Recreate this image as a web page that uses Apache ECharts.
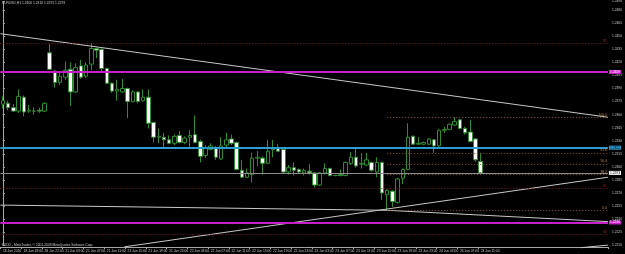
<!DOCTYPE html>
<html>
<head>
<meta charset="utf-8">
<script src="https://cdn.jsdelivr.net/npm/echarts@6/dist/echarts.min.js"></script>
<style>
  html, body { margin: 0; padding: 0; background: #000; }
  #chart { width: 625px; height: 254px; }
</style>
</head>
<body>
<div id="chart"></div>
<script>
// EURUSD H1, 18 Jun 14:00 .. 24 Jun 11:00 (2010)
const timeLabels = ['18 Jun 2010', '18 Jun 18:00', '18 Jun 22:00', '21 Jun 03:00', '21 Jun 07:00', '21 Jun 11:00',
  '21 Jun 15:00', '21 Jun 19:00', '21 Jun 23:00', '22 Jun 03:00', '22 Jun 07:00', '22 Jun 11:00',
  '22 Jun 15:00', '22 Jun 19:00', '22 Jun 23:00', '23 Jun 03:00', '23 Jun 07:00', '23 Jun 11:00',
  '23 Jun 15:00', '23 Jun 19:00', '23 Jun 23:00', '24 Jun 03:00', '24 Jun 07:00', '24 Jun 11:00'];
const totalSlots = 117; // bars + empty space on the right

const opens = [
  1.2372, 1.2373, 1.2368, 1.2364, 1.2380, 1.2364, 1.2364, 1.2365, 1.2364,
  1.2431, 1.2410, 1.2397, 1.2403, 1.2412, 1.2386, 1.2416, 1.2404, 1.2418, 1.2436, 1.2435,
  1.2413, 1.2396, 1.2387, 1.2386, 1.2390, 1.2375, 1.2386, 1.2376, 1.2380, 1.2351,
  1.2334, 1.2334, 1.2331, 1.2327, 1.2336, 1.2328, 1.2334, 1.2337, 1.2329, 1.2313,
  1.2320, 1.2322, 1.2309, 1.2325, 1.2332, 1.2328, 1.2296, 1.2288, 1.2291, 1.2310,
  1.2310, 1.2304, 1.2322, 1.2322, 1.2320, 1.2294, 1.2299, 1.2297, 1.2293, 1.2295,
  1.2293, 1.2279, 1.2293, 1.2298, 1.2290, 1.2291, 1.2290, 1.2304, 1.2311, 1.2303,
  1.2302, 1.2305, 1.2294, 1.2305, 1.2268, 1.2272, 1.2259, 1.2287, 1.2297, 1.2335,
  1.2326, 1.2326, 1.2326, 1.2331, 1.2324, 1.2342, 1.2343, 1.2348, 1.2354, 1.2344,
  1.2340, 1.2332, 1.2306
];
const closes = [
  1.2376, 1.2368, 1.2364, 1.2381, 1.2363, 1.2365, 1.2364, 1.2364, 1.2373,
  1.2412, 1.2397, 1.2404, 1.2411, 1.2386, 1.2414, 1.2403, 1.2417, 1.2436, 1.2434, 1.2413,
  1.2396, 1.2387, 1.2389, 1.2390, 1.2375, 1.2386, 1.2375, 1.2380, 1.2350, 1.2334,
  1.2335, 1.2331, 1.2327, 1.2335, 1.2328, 1.2333, 1.2336, 1.2328, 1.2312, 1.2322,
  1.2324, 1.2311, 1.2324, 1.2331, 1.2327, 1.2297, 1.2288, 1.2293, 1.2310, 1.2311,
  1.2304, 1.2318, 1.2320, 1.2318, 1.2294, 1.2299, 1.2296, 1.2294, 1.2296, 1.2293,
  1.2279, 1.2293, 1.2298, 1.2290, 1.2290, 1.2290, 1.2305, 1.2311, 1.2301, 1.2304,
  1.2308, 1.2296, 1.2305, 1.2270, 1.2273, 1.2260, 1.2286, 1.2297, 1.2334, 1.2326,
  1.2327, 1.2328, 1.2332, 1.2324, 1.2342, 1.2343, 1.2349, 1.2352, 1.2344, 1.2339,
  1.2329, 1.2308, 1.2293
];
const lows = [
  1.2367, 1.2365, 1.2363, 1.2362, 1.2358, 1.2362, 1.2360, 1.2362, 1.2363,
  1.2411, 1.2391, 1.2394, 1.2400, 1.2370, 1.2385, 1.2401, 1.2402, 1.2411, 1.2425, 1.2409,
  1.2395, 1.2385, 1.2376, 1.2385, 1.2356, 1.2374, 1.2373, 1.2375, 1.2344, 1.2328,
  1.2327, 1.2321, 1.2326, 1.2325, 1.2327, 1.2326, 1.2322, 1.2327, 1.2305, 1.2310,
  1.2319, 1.2308, 1.2308, 1.2322, 1.2325, 1.2296, 1.2287, 1.2287, 1.2282, 1.2301,
  1.2291, 1.2303, 1.2311, 1.2317, 1.2293, 1.2291, 1.2290, 1.2293, 1.2290, 1.2291,
  1.2276, 1.2278, 1.2291, 1.2289, 1.2289, 1.2289, 1.2289, 1.2302, 1.2299, 1.2298,
  1.2301, 1.2294, 1.2288, 1.2262, 1.2250, 1.2254, 1.2258, 1.2280, 1.2296, 1.2325,
  1.2325, 1.2325, 1.2325, 1.2316, 1.2322, 1.2339, 1.2342, 1.2347, 1.2343, 1.2337,
  1.2328, 1.2306, 1.2291
];
const highs = [
  1.2381, 1.2376, 1.2372, 1.2389, 1.2382, 1.2371, 1.2368, 1.2368, 1.2374,
  1.2441, 1.2411, 1.2408, 1.2421, 1.2420, 1.2419, 1.2423, 1.2420, 1.2442, 1.2437, 1.2436,
  1.2414, 1.2397, 1.2400, 1.2401, 1.2391, 1.2388, 1.2387, 1.2389, 1.2389, 1.2352,
  1.2344, 1.2339, 1.2336, 1.2337, 1.2341, 1.2335, 1.2342, 1.2359, 1.2331, 1.2325,
  1.2327, 1.2324, 1.2334, 1.2339, 1.2337, 1.2329, 1.2308, 1.2298, 1.2316, 1.2318,
  1.2312, 1.2331, 1.2331, 1.2326, 1.2321, 1.2302, 1.2305, 1.2298, 1.2298, 1.2303,
  1.2294, 1.2294, 1.2304, 1.2299, 1.2291, 1.2297, 1.2306, 1.2317, 1.2322, 1.2316,
  1.2316, 1.2306, 1.2311, 1.2306, 1.2274, 1.2273, 1.2287, 1.2298, 1.2350, 1.2336,
  1.2334, 1.2329, 1.2333, 1.2332, 1.2343, 1.2346, 1.2350, 1.2357, 1.2355, 1.2346,
  1.2354, 1.2333, 1.2316
];

// horizontal objects
const magentaLevels = [1.2409, 1.2236];
const cyanLevel = 1.2322;
const bidLevel = 1.2293;
const pivotLevels = [1.2442, 1.2275, 1.2222];
const pivotNames = ['R1', 'S1', 'S2'];

// fibonacci from 23 Jun low (bar 74) to 24 Jun high (bar 87)
const fibStartBar = 74;
const fibLow = 1.2250, fibHigh = 1.2357;
const fibRatios = [0, 38.2, 50, 61.8, 100];

// trend lines as [barIndex, price]
const trendDown = [[-0.5, 1.2453], [116.5, 1.2357]];
const trendUp = [[23.4, 1.2208], [116.5, 1.2288]];
const trendFlat = [[-0.5, 1.2256], [74, 1.2250], [116.5, 1.2237]];
const trendLow = [[111.3, 1.2207], [116.5, 1.2210]];

const fontFam = 'Liberation Sans, Arial, sans-serif';
const fs = 3.3;
const green = '#2e8b2e';
const leftEdge = -0.5, rightEdge = 116.5;

const categories = Array.from({ length: totalSlots }, (_, i) => String(i));
const candles = opens.map((o, i) => [o, closes[i], lows[i], highs[i]]);
const showTick = (idx) => idx % 4 === 0 && idx / 4 < timeLabels.length;

// horizontal segment between two bars, drawn on the value x axis
const seg = (from, value, style, label) => [
  { coord: [from, value], lineStyle: style },
  { coord: [rightEdge, value], label: label || { show: false } }
];
const boxLabel = (value, bg, fg) => ({
  show: true, position: 'end', distance: 1,
  formatter: value.toFixed(4), fontSize: fs, fontFamily: fontFam,
  color: fg, backgroundColor: bg, padding: [0.5, 1]
});
const tagLabel = (text, color) => ({
  show: true, position: 'insideEndTop', distance: 1,
  formatter: text, fontSize: fs, fontFamily: fontFam, color: color
});

const marks = [
  seg(leftEdge, magentaLevels[0], { color: '#c81ec8', width: 2, type: 'solid' }, boxLabel(magentaLevels[0], '#c81ec8', '#ffffff')),
  seg(leftEdge, magentaLevels[1], { color: '#c81ec8', width: 2, type: 'solid' }, boxLabel(magentaLevels[1], '#c81ec8', '#ffffff')),
  seg(leftEdge, cyanLevel, { color: '#2f9ccf', width: 2, type: 'solid' }, boxLabel(cyanLevel, '#2f9ccf', '#000000')),
  seg(leftEdge, bidLevel, { color: '#8c8c8c', width: 1, type: 'solid' }, boxLabel(bidLevel, '#ffffff', '#000000'))
].concat(pivotLevels.map((v, k) =>
  seg(leftEdge, v, { color: '#7a1c1c', width: 1, type: [1, 2] }, tagLabel(pivotNames[k], '#9a2a2a'))
)).concat(fibRatios.map(r => {
  const p = fibLow + (fibHigh - fibLow) * r / 100;
  return seg(fibStartBar, p, { color: '#8a5a30', width: 1, type: [1, 2] }, tagLabel(r.toFixed(1), '#c8903c'));
}));

const lineSeries = (data, extra) => Object.assign({
  type: 'line', xAxisIndex: 1, yAxisIndex: 0, data: data,
  symbol: 'none', silent: true, clip: false,
  lineStyle: { color: '#c8c8c8', width: 1 }
}, extra || {});

const chart = echarts.init(document.getElementById('chart'), null, { renderer: 'canvas' });
chart.setOption({
  backgroundColor: '#000000',
  animation: false,
  textStyle: { fontFamily: fontFam },
  grid: { left: -1.85, right: 14.8, top: 1.3, bottom: 8.9 },
  xAxis: [{
    type: 'category', data: categories, boundaryGap: true, offset: 2,
    axisLine: { lineStyle: { color: '#a8a8a8', width: 1 } },
    axisTick: { show: true, length: 2, interval: showTick, lineStyle: { color: '#a8a8a8' } },
    axisLabel: {
      interval: showTick, fontSize: fs, color: '#c8c8c8', align: 'left', margin: 2,
      formatter: (v, idx) => timeLabels[idx / 4] || ''
    },
    splitLine: { show: false }
  }, {
    type: 'value', min: leftEdge, max: rightEdge, show: false
  }],
  yAxis: [{
    type: 'value', position: 'right', offset: 2,
    min: 1.2210, max: 1.2490, interval: 0.0015, scale: true,
    axisLine: { show: true, lineStyle: { color: '#a8a8a8', width: 1 } },
    axisTick: { show: true, length: 2, lineStyle: { color: '#a8a8a8' } },
    axisLabel: { fontSize: fs, color: '#c8c8c8', margin: 2, formatter: v => v.toFixed(4) },
    splitLine: { show: false }
  }],
  graphic: [
    { type: 'text', left: 2, top: 2, style: { text: 'EURUSD,H1 1.2306 1.2316 1.2291 1.2293',
      fill: '#c8c8c8', fontSize: fs, fontFamily: fontFam } },
    { type: 'text', left: 2, top: 243.5, style: { text: 'FXDD - MetaTrader, \u00a9 2001-2009 MetaQuotes Software Corp.',
      fill: '#c8c8c8', fontSize: fs, fontFamily: fontFam } }
  ],
  series: [
    {
      type: 'candlestick', name: 'EURUSD', xAxisIndex: 0, yAxisIndex: 0,
      data: candles, barWidth: 4, silent: true,
      itemStyle: { color: '#000000', color0: '#ffffff', borderColor: green, borderColor0: green, borderWidth: 1 }
    },
    lineSeries(trendDown, {
      markLine: { symbol: 'none', silent: true, animation: false, data: marks }
    }),
    lineSeries(trendUp),
    lineSeries(trendFlat),
    lineSeries(trendLow)
  ]
});
</script>
</body>
</html>
